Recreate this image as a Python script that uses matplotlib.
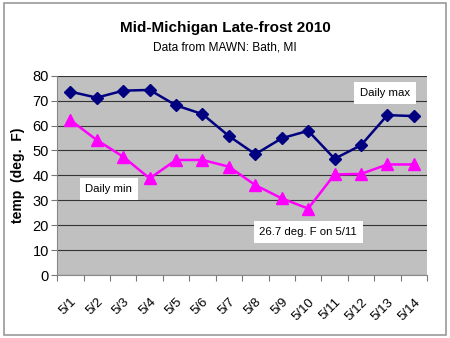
import matplotlib.pyplot as plt
from matplotlib.patches import Rectangle

plt.rcParams['font.family'] = ['Liberation Sans', 'DejaVu Sans']

# 日期与每日最高/最低气温（华氏度）
dates = ['5/1', '5/2', '5/3', '5/4', '5/5', '5/6', '5/7',
         '5/8', '5/9', '5/10', '5/11', '5/12', '5/13', '5/14']
daily_max = [73.6, 71.2, 74.0, 74.3, 68.1, 64.6, 55.8,
             48.5, 54.9, 57.9, 46.7, 52.1, 64.2, 63.8]
daily_min = [62.2, 54.2, 47.5, 38.8, 46.2, 46.2, 43.5,
             36.1, 30.8, 26.7, 40.4, 40.6, 44.4, 44.4]
y_ticks = [0, 10, 20, 30, 40, 50, 60, 70, 80]

fig = plt.figure(figsize=(4.5, 3.38), dpi=100)
fig.patches.append(Rectangle((0.008, 0.01), 0.984, 0.98, transform=fig.transFigure,
                             fill=False, edgecolor='#9a9a9a', linewidth=1.2))

ax = fig.add_axes([0.127, 0.186, 0.822, 0.590])
ax.set_facecolor('#c0c0c0')

x = list(range(len(dates)))
ax.plot(x, daily_max, color='#000080', linewidth=1.8, marker='D', markersize=6)
ax.plot(x, daily_min, color='#ff00ff', linewidth=1.8, marker='^', markersize=8)

ax.set_xlim(-0.5, len(dates) - 0.5)
ax.set_ylim(0, 80)
ax.set_yticks(y_ticks)
ax.set_yticklabels([str(v) for v in y_ticks], fontsize=10.5)
ax.yaxis.grid(True, color='#333333', linewidth=0.8)
ax.set_axisbelow(True)

# 分类轴：刻度在类别之间，标签在中心
ax.set_xticks([i - 0.5 for i in range(len(dates) + 1)])
ax.set_xticklabels([])
ax.set_xticks(x, minor=True)
ax.set_xticklabels(dates, minor=True, rotation=45, fontsize=9.5,
                   ha='right', va='top', rotation_mode='anchor')
ax.tick_params(axis='x', which='minor', length=0, pad=15)
ax.tick_params(axis='x', which='major', length=4, color='#777777')
ax.tick_params(axis='y', length=4, color='#777777', pad=2)

for s in ['top', 'right']:
    ax.spines[s].set_visible(False)
for s in ['left', 'bottom']:
    ax.spines[s].set_color('#888888')

ax.set_ylabel('temp  (deg.  F)', fontsize=10, fontweight='bold', labelpad=5)

fig.text(0.5, 0.918, 'Mid-Michigan Late-frost 2010', ha='center', va='center',
         fontsize=11, fontweight='bold')
fig.text(0.5, 0.86, 'Data from MAWN: Bath, MI', ha='center', va='center',
         fontsize=8.6)

box = dict(boxstyle='square,pad=0.5', facecolor='white', edgecolor='none')
ax.text(11.9, 73, 'Daily max', ha='center', va='center', fontsize=8.2, bbox=box)
ax.text(1.45, 34.5, 'Daily min', ha='center', va='center', fontsize=8.2, bbox=box)
ax.text(9.0, 17.3, '26.7 deg. F on 5/11', ha='center', va='center', fontsize=8.2, bbox=box)

plt.savefig('out.png', dpi=100)
